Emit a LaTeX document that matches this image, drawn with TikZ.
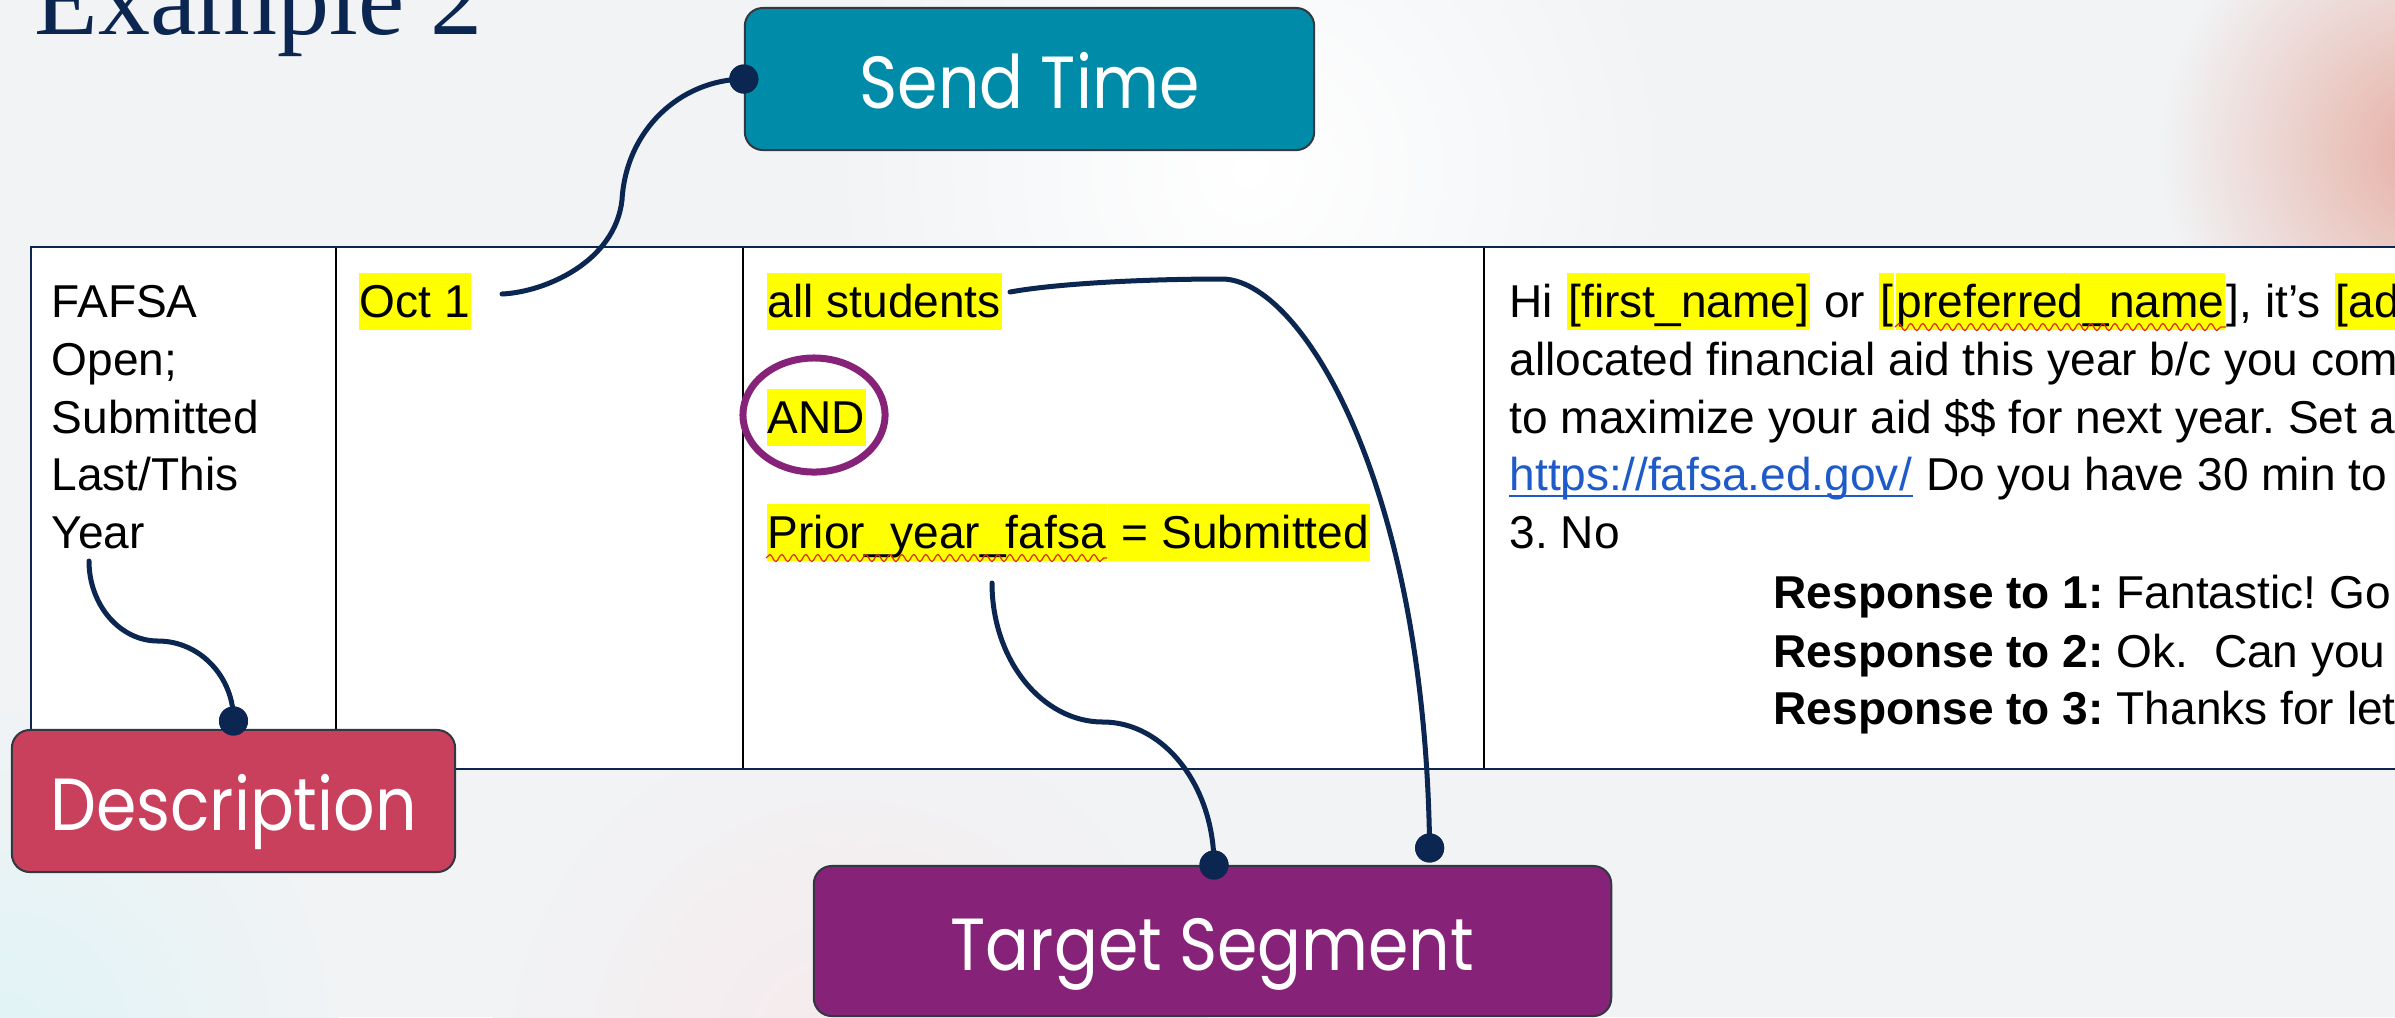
\documentclass[tikz,border=0pt]{standalone}
\usepackage{fontspec}
\setmainfont{Liberation Sans}
\newfontfamily\boxfont{Poppins}[FakeStretch=0.88]
\newfontfamily\titlefont{Liberation Serif}
\usetikzlibrary{decorations.pathmorphing,shapes.geometric,calc}
\definecolor{bg}{HTML}{F1F3F5}
\definecolor{navy}{HTML}{0B2650}
\definecolor{cSend}{HTML}{008CA8}
\definecolor{cDesc}{HTML}{C9405C}
\definecolor{cTgt}{HTML}{862278}
\definecolor{cHL}{HTML}{FFFF00}
\definecolor{cLink}{HTML}{1F5BC8}
\definecolor{cSalmon}{HTML}{E6AFA4}
\definecolor{cEdge}{HTML}{323741}
\definecolor{cWavy}{HTML}{E02A10}
\newcommand\hsp{\mbox{\ }}
\tikzset{
  tx/.style={anchor=base west, inner sep=0pt, font=\fontsize{13.1pt}{15pt}\selectfont},
  hl/.style={tx, fill=cHL, inner xsep=0.01cm, text height=0.44cm, text depth=0.13cm},
  lbl/.style={rounded corners=0.18cm, draw=cEdge, line width=0.02cm, text=white,
    font=\boxfont\fontsize{21pt}{25pt}\selectfont, text height=0.59cm, text depth=0pt, inner sep=0pt},
  conn/.style={draw=navy, line width=0.05cm, line cap=round},
  dot/.style={circle, fill=navy, inner sep=0pt, minimum size=0.29cm},
  wavy/.style={draw=cWavy, line width=0.012cm, decorate, decoration={snake, segment length=0.12cm, amplitude=0.035cm}},
  rule/.style={line width=0.025cm}
}
\begin{document}
\frenchspacing
\begin{tikzpicture}[x=0.01cm, y=-0.01cm]
\useasboundingbox (0,0) rectangle (2395,1017);
\clip (0,0) rectangle (2395,1017);
% background
\fill[bg] (0,0) rectangle (2395,1017);
\shade[inner color=white, outer color=bg] (1250,170) circle (420);
\shade[inner color={rgb,255:red,224;green,243;blue,246}, outer color=bg] (0,1040) circle (340);
\shade[inner color={rgb,255:red,246;green,234;blue,236}, outer color=bg] (850,1060) circle (360);
\shade[inner color=cSalmon, outer color=bg] (2430,150) circle (270);
% title
\node[anchor=base west, inner sep=0pt, text=navy, font=\titlefont\fontsize{29.6pt}{30pt}\selectfont] (title) at (34,34) {Example 2};
% table
\fill[white] (31,247) rectangle (2400,769);
\draw[rule, black] (336,247) -- (336,769);
\draw[rule, black] (743,247) -- (743,769);
\draw[rule, black] (1484,247) -- (1484,769);
\draw[rule, navy] (2400,247) -- (31,247) -- (31,769) -- (2400,769);
% column 1
\node[tx] (c1a) at (51,317) {FAFSA};
\node[tx] (c1b) at (51,375) {Open;};
\node[tx] (c1c) at (51,433) {Submitted};
\node[tx] (c1d) at (51,490) {Last/This};
\node[tx] (c1e) at (51,548) {Year};
% column 2
\node[hl] (oct) at (358,317) {Oct 1};
% column 3
\node[hl] (alls) at (766,317) {all students};
\node[hl] (andn) at (766,433) {AND};
\node[hl] (pyf) at (766,548) {Prior\_year\_fafsa};
\node[hl] (pys) at (pyf.base east) {\hsp= Submitted};
\draw[wavy] ([yshift=-0.1cm]pyf.base west) -- ([yshift=-0.1cm]pyf.base east);
\node[draw=cTgt, line width=0.07cm, ellipse, inner sep=0pt, minimum width=1.42cm, minimum height=1.14cm] (andring) at (814,415) {};
% column 4
\node[tx] (hi) at (1509,317) {Hi\hsp};
\node[hl] (fn) at (hi.base east) {[first\_name]};
\node[tx] (or) at (fn.base east) {\hsp or\hsp};
\node[hl] (pb) at (or.base east) {[};
\node[hl] (pn) at (pb.base east) {preferred\_name};
\node[tx] (its) at (pn.base east) {],\hsp it’s\hsp};
\node[hl] (adv) at (its.base east) {[adv};
\draw[wavy] ([yshift=-0.1cm]pn.base west) -- ([yshift=-0.1cm]pn.base east);
\node[tx] (l2) at (1509,375) {allocated financial aid this year b/c you com};
\node[tx] (l3) at (1509,433) {to maximize your aid \$\$ for next year. Set as};
\node[tx, text=cLink] (lnk) at (1509,490) {https://fafsa.ed.gov/};
\draw[cLink, line width=0.02cm] ([yshift=-0.06cm]lnk.base west) -- ([yshift=-0.06cm]lnk.base east);
\node[tx] (l4) at (lnk.base east) {\hsp Do you have 30 min to};
\node[tx] (l5) at (1509,548) {3. No};
\node[tx] (r1) at (1773,608) {\textbf{Response to 1:} Fantastic! Go t};
\node[tx] (r2) at (1773,667) {\textbf{Response to 2:} Ok.\ \ Can you te};
\node[tx] (r3) at (1773,724) {\textbf{Response to 3:} Thanks for letti};
% label boxes
\node[lbl, fill=cSend, minimum width=5.69cm, minimum height=1.42cm] (send) at (1029.5,79) {Send Time};
\node[lbl, fill=cDesc, minimum width=4.43cm, minimum height=1.42cm] (desc) at (233.5,801) {Description};
\node[lbl, fill=cTgt, minimum width=7.97cm, minimum height=1.50cm] (tgt) at (1212.5,941) {Target Segment};
% dots
\node[dot] (dsend) at (send.west) {};
\node[dot] (ddesc) at ([yshift=0.08cm]desc.north) {};
\node[dot] (dtg1) at ([xshift=0.015cm]tgt.north) {};
\node[dot] (dtg2) at ([xshift=2.17cm, yshift=0.17cm]tgt.north) {};
% connector free ends
\coordinate (eoct) at (502,294);
\coordinate (eyear) at (89,561);
\coordinate (eprior) at (992,583);
\coordinate (ealls) at (1010,292);
% connectors
\draw[conn] (eoct) .. controls (545,292) and (615,262) .. (622,200) .. controls (626,130) and (680,80) .. (dsend.center);
\draw[conn] (eyear) .. controls (89,605) and (120,641) .. (158,641) .. controls (200,641) and (234,677) .. (ddesc.center);
\draw[conn] (eprior) .. controls (992,660) and (1042,722) .. (1103,722) .. controls (1164,722) and (1214,786) .. (dtg1.center);
\draw[conn] (ealls) .. controls (1060,283) and (1150,279) .. (1222,279) .. controls (1300,279) and (1425,480) .. (dtg2.center);
\node[dot] (dsendtop) at (dsend.center) {};
\node[dot] (ddesctop) at (ddesc.center) {};
\node[dot] (dtg1top) at (dtg1.center) {};
\node[dot] (dtg2top) at (dtg2.center) {};
\end{tikzpicture}
\end{document}
